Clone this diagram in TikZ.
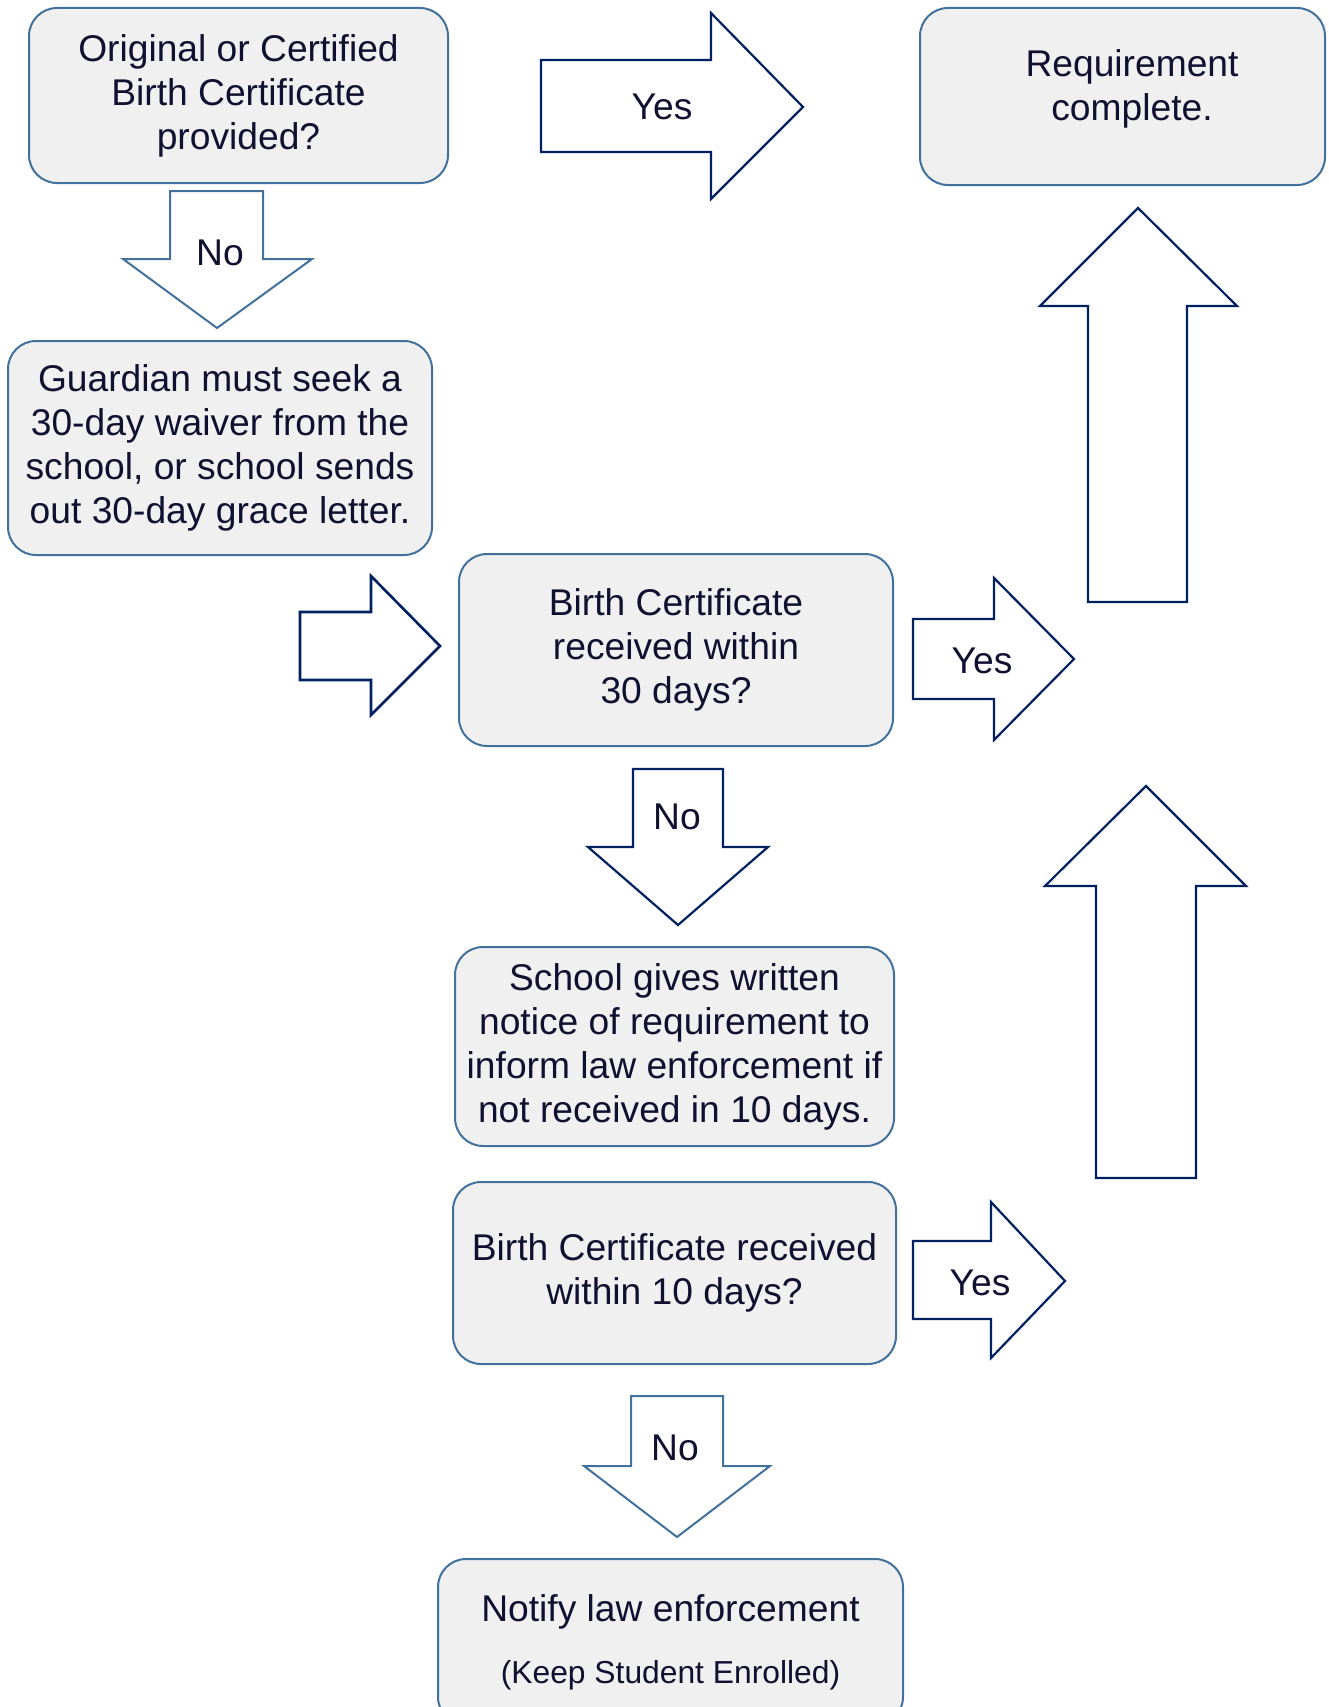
\documentclass[tikz,border=0pt]{standalone}
\usepackage{fontspec}
\setmainfont{Liberation Sans}
\usetikzlibrary{positioning}
\definecolor{boxline}{RGB}{65,113,156}
\definecolor{boxfill}{RGB}{240,240,240}
\definecolor{navy}{RGB}{0,32,96}
\definecolor{ink}{RGB}{16,16,48}
\tikzset{
  box/.style={draw=boxline,fill=boxfill,line width=1pt,rounded corners=14pt,
    align=center,text=ink,inner sep=0pt},
  barrow/.style={draw=navy,fill=white,line width=1.1pt,line join=miter},
  lbarrow/.style={barrow,draw=boxline,line width=1pt},
  lbl/.style={text=ink,inner sep=0pt}
}

\begin{document}
\begin{tikzpicture}[x=0.5pt,y=-0.5pt,font=\fontsize{18.6}{22}\selectfont]
    \clip (0,0) rectangle (1328,1707);
    % boxes
    \node (q1) [box,minimum width=209.5pt,minimum height=87.5pt] at (238.5,95.5)
      {Original or Certified\\Birth Certificate\\provided?};
    \node (done) [box,minimum width=202.5pt,minimum height=88.5pt] at (1122.5,96.5) {};
    \node (doneTxt) [lbl,align=center] at (1132,89) {Requirement\\complete.};
    \node (waiver) [box,minimum width=212pt,minimum height=107pt] at (220,448)
      {Guardian must seek a\\30-day waiver from the\\school, or school sends\\out 30-day grace letter.};
    \node (q30) [box,minimum width=217pt,minimum height=96pt] at (676,650)
      {Birth Certificate\\received within\\30 days?};
    \node (notice) [box,minimum width=219.5pt,minimum height=99.5pt] at (674.5,1046.5)
      {School gives written\\notice of requirement to\\inform law enforcement if\\not received in 10 days.};
    \node (q10) [box,minimum width=221.5pt,minimum height=91pt] at (674.5,1273)
      {Birth Certificate received\\within 10 days?};
    \node (notify) [box,minimum width=232.5pt,minimum height=83pt] at (670.5,1642)
      {Notify law enforcement\\[9pt]{\fontsize{15.9}{18}\selectfont(Keep Student Enrolled)}};
    % block arrows
    \draw[lbarrow] (170,191) -- (263,191) -- (263,259) -- (312,259) -- (217,328)
      -- (123,259) -- (170,259) -- cycle;
    \draw[barrow] (541,60) -- (711,60) -- (711,13) -- (803,107) -- (711,199)
      -- (711,152) -- (541,152) -- cycle;
    \draw[barrow,line width=1.3pt] (300,612) -- (371,612) -- (371,576) -- (440,646)
      -- (371,715) -- (371,680) -- (300,680) -- cycle;
    \draw[barrow] (913,619) -- (994,619) -- (994,578) -- (1074,659) -- (994,740)
      -- (994,699) -- (913,699) -- cycle;
    \draw[barrow] (1088,602) -- (1088,306) -- (1040,306) -- (1138,208) -- (1237,306)
      -- (1187,306) -- (1187,602) -- cycle;
    \draw[barrow] (633,769) -- (723,769) -- (723,847) -- (768,847) -- (678,925)
      -- (588,847) -- (633,847) -- cycle;
    \draw[barrow] (1096,1178) -- (1096,886) -- (1045,886) -- (1146,786) -- (1246,886)
      -- (1196,886) -- (1196,1178) -- cycle;
    \draw[barrow] (913,1241) -- (991,1241) -- (991,1202) -- (1065,1281) -- (991,1358)
      -- (991,1319) -- (913,1319) -- cycle;
    \draw[lbarrow] (631,1396) -- (723,1396) -- (723,1466) -- (770,1466) -- (677,1537)
      -- (584,1466) -- (631,1466) -- cycle;
    % arrow labels
    \node (no1) [lbl] at (220,253) {No};
    \node (yes1) [lbl] at (662,107) {Yes};
    \node (yes2) [lbl] at (982,661) {Yes};
    \node (no2) [lbl] at (677,817) {No};
    \node (yes3) [lbl] at (980,1283) {Yes};
    \node (no3) [lbl] at (675,1448) {No};
\end{tikzpicture}
\end{document}
